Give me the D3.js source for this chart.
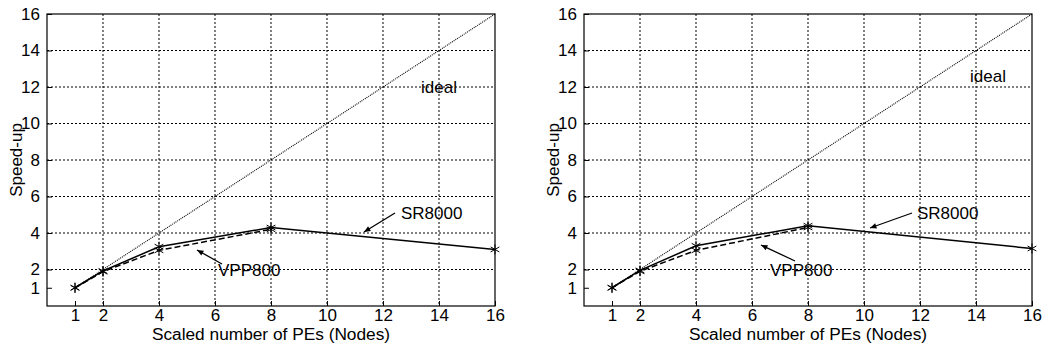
<!DOCTYPE html>
<html>
<head>
<meta charset="utf-8">
<script src="https://cdn.jsdelivr.net/npm/d3@7"></script>
<style>
  body { margin: 0; background: #fff; }
  text { font-family: "Liberation Sans", Arial, sans-serif; fill: #000; }
</style>
</head>
<body>
<div class="chart"></div>
<script>
// data
var nodes = [1, 2, 4, 8, 16]
var xTicks = [1, 2, 4, 6, 8, 10, 12, 14, 16]
var yTicks = [1, 2, 4, 6, 8, 10, 12, 14, 16]
var idealLeft = [1, 16]
var srLeft = [1, 1.92, 3.25, 4.3, 3.1]
var vppLeft = [1, 1.88, 3.05, 4.2]
var srRight = [1, 1.95, 3.3, 4.4, 3.15]
var vppRight = [1, 1.9, 3.05, 4.3]

var W = 1044, H = 348
var width = 448, height = 292
var fs = '17px'

var svg = d3.select('.chart')
  .append('svg')
    .attr('width', W)
    .attr('height', H)

function panel(left, sr, vpp, notes) {
  var g = svg.append('g')
    .attr('transform', `translate(${left}, 14)`)

  var x = d3.scaleLinear().domain([0, 16]).range([0, width])
  var y = d3.scaleLinear().domain([0, 16]).range([height, 0])

  // dotted grid (no lines at 1)
  g.selectAll('.gx').data(xTicks.filter(d => d > 1 && d < 16)).enter()
    .append('line')
      .attr('x1', d => x(d)).attr('x2', d => x(d))
      .attr('y1', 0).attr('y2', height)
      .attr('stroke', '#000').attr('stroke-width', 1)
      .attr('stroke-dasharray', '2,2')
  g.selectAll('.gy').data(yTicks.filter(d => d > 1 && d < 16)).enter()
    .append('line')
      .attr('y1', d => y(d)).attr('y2', d => y(d))
      .attr('x1', 0).attr('x2', width)
      .attr('stroke', '#000').attr('stroke-width', 1)
      .attr('stroke-dasharray', '2,2')

  // axes with inward ticks
  var xAxis = d3.axisBottom(x).tickValues(xTicks).tickSizeInner(-5).tickSizeOuter(0).tickPadding(3)
  var yAxis = d3.axisLeft(y).tickValues(yTicks).tickSizeInner(-5).tickSizeOuter(0).tickPadding(7)

  var gx = g.append('g').attr('transform', `translate(0, ${height})`).call(xAxis)
  var gy = g.append('g').call(yAxis)
  ;[gx, gy].forEach(a => {
    a.select('.domain').remove()
    a.selectAll('text').style('font-size', fs).style('font-family', '"Liberation Sans", Arial, sans-serif')
  })

  g.append('rect')
    .attr('width', width).attr('height', height)
    .attr('fill', 'none').attr('stroke', '#000').attr('stroke-width', 1.2)

  // ideal line
  g.append('line')
    .attr('x1', x(idealLeft[0])).attr('y1', y(idealLeft[0]))
    .attr('x2', x(idealLeft[1])).attr('y2', y(idealLeft[1]))
    .attr('stroke', '#000').attr('stroke-width', 1.1)
    .attr('stroke-dasharray', '1,1')

  var line = d3.line().x((d, i) => x(nodes[i])).y(d => y(d))

  g.append('path').datum(vpp).attr('d', line)
    .attr('fill', 'none').attr('stroke', '#000').attr('stroke-width', 1.5)
    .attr('stroke-dasharray', '6,3')
  g.append('path').datum(sr).attr('d', line)
    .attr('fill', 'none').attr('stroke', '#000').attr('stroke-width', 1.5)

  function stars(vals) {
    vals.forEach((v, i) => {
      var px = x(nodes[i]), py = y(v), r = 5
      var s = g.append('g').attr('transform', `translate(${px}, ${py})`)
      ;[[0, -r, 0, r], [-r * 0.87, -r * 0.5, r * 0.87, r * 0.5], [-r * 0.87, r * 0.5, r * 0.87, -r * 0.5]].forEach(p => {
        s.append('line').attr('x1', p[0]).attr('y1', p[1]).attr('x2', p[2]).attr('y2', p[3])
          .attr('stroke', '#000').attr('stroke-width', 1)
      })
    })
  }
  stars(sr)
  stars(vpp)

  // annotations
  g.append('text').attr('x', notes.ideal[0] - left).attr('y', notes.ideal[1] - 14)
    .style('font-size', fs).text('ideal')
  g.append('text').attr('x', notes.sr[0] - left).attr('y', notes.sr[1] - 14)
    .style('font-size', fs).text('SR8000')
  g.append('text').attr('x', notes.vpp[0] - left).attr('y', notes.vpp[1] - 14)
    .style('font-size', fs).text('VPP800')

  function arrow(a) {
    var x1 = a[0] - left, y1 = a[1] - 14, x2 = a[2] - left, y2 = a[3] - 14
    g.append('line').attr('x1', x1).attr('y1', y1).attr('x2', x2).attr('y2', y2)
      .attr('stroke', '#000').attr('stroke-width', 1.3)
    var ang = Math.atan2(y2 - y1, x2 - x1), L = 7, spread = 0.4
    var p = [[x2, y2],
      [x2 - L * Math.cos(ang - spread), y2 - L * Math.sin(ang - spread)],
      [x2 - L * Math.cos(ang + spread), y2 - L * Math.sin(ang + spread)]]
    g.append('path').attr('d', 'M' + p.join('L') + 'Z').attr('fill', '#000')
  }
  arrow(notes.srArrow)
  arrow(notes.vppArrow)

  // axis titles
  g.append('text').attr('x', width / 2).attr('y', height + 34)
    .attr('text-anchor', 'middle').style('font-size', '17.3px')
    .text('Scaled number of PEs (Nodes)')
  g.append('text')
    .attr('transform', `translate(-25, ${height / 2}) rotate(-90)`)
    .attr('text-anchor', 'middle').style('font-size', fs)
    .text('Speed-up')
}

panel(47, srLeft, vppLeft, {
  ideal: [421, 93], sr: [401, 219], vpp: [218, 276],
  srArrow: [395, 213, 364, 232], vppArrow: [222, 264, 197, 250]
})
panel(584, srRight, vppRight, {
  ideal: [970, 82], sr: [917, 219], vpp: [770, 276],
  srArrow: [912, 213, 870, 228], vppArrow: [795, 261, 761, 245]
})
</script>
</body>
</html>
